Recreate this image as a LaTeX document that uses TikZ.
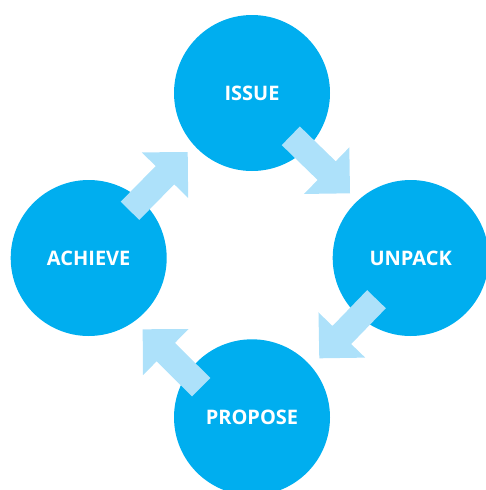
\documentclass[tikz,border=0pt]{standalone}
\usepackage{fontspec}
\setmainfont{Open Sans}
\usetikzlibrary{calc}
\definecolor{stagefill}{HTML}{00AEEF}
\definecolor{arrowfill}{HTML}{ADE1FA}
\tikzset{
  stage/.style={circle, fill=stagefill, minimum size=156pt, inner sep=0pt,
    text=white, font=\fontsize{20}{24}\selectfont\bfseries},
  flow/.style={fill=arrowfill, draw=none}
}
% block arrow from coordinate #1 (shaft base centre) to coordinate #2 (tip)
\newcommand\blockarrow[2]{%
  \path coordinate (hb) at ($(#1)!0.606!(#2)$);
  \fill[flow] ($(#1)!13pt!90:(#2)$) -- ($(hb)!13pt!90:(#2)$)
    -- ($(hb)!32.5pt!90:(#2)$) -- (#2) -- ($(hb)!32.5pt!-90:(#2)$)
    -- ($(hb)!13pt!-90:(#2)$) -- ($(#1)!13pt!-90:(#2)$) -- cycle;
}
\begin{document}
\begin{tikzpicture}[x=1pt, y=-1pt]
  \useasboundingbox (0,0) rectangle (486,490);
  \clip (0,0) rectangle (486,490);
  % stages
  \node[stage] (issue)   at (252,93)    {ISSUE};
  \node[stage] (achieve) at (88.7,258)  {ACHIEVE};
  \node[stage] (unpack)  at (410.7,258) {UNPACK};
  \node[stage] (propose) at (252,417.3) {PROPOSE};
  % arrow anchors
  \coordinate (a1s) at (130,210.8);   \coordinate (a1t) at (187.7,152);
  \coordinate (a2s) at (290.8,135.8); \coordinate (a2t) at (350,193.3);
  \coordinate (a3s) at (376.5,299.2); \coordinate (a3t) at (319.3,358.3);
  \coordinate (a4s) at (201.2,387.2); \coordinate (a4t) at (142.7,329.3);
  % cycle arrows
  \blockarrow{a1s}{a1t}
  \blockarrow{a2s}{a2t}
  \blockarrow{a3s}{a3t}
  \blockarrow{a4s}{a4t}
\end{tikzpicture}
\end{document}
